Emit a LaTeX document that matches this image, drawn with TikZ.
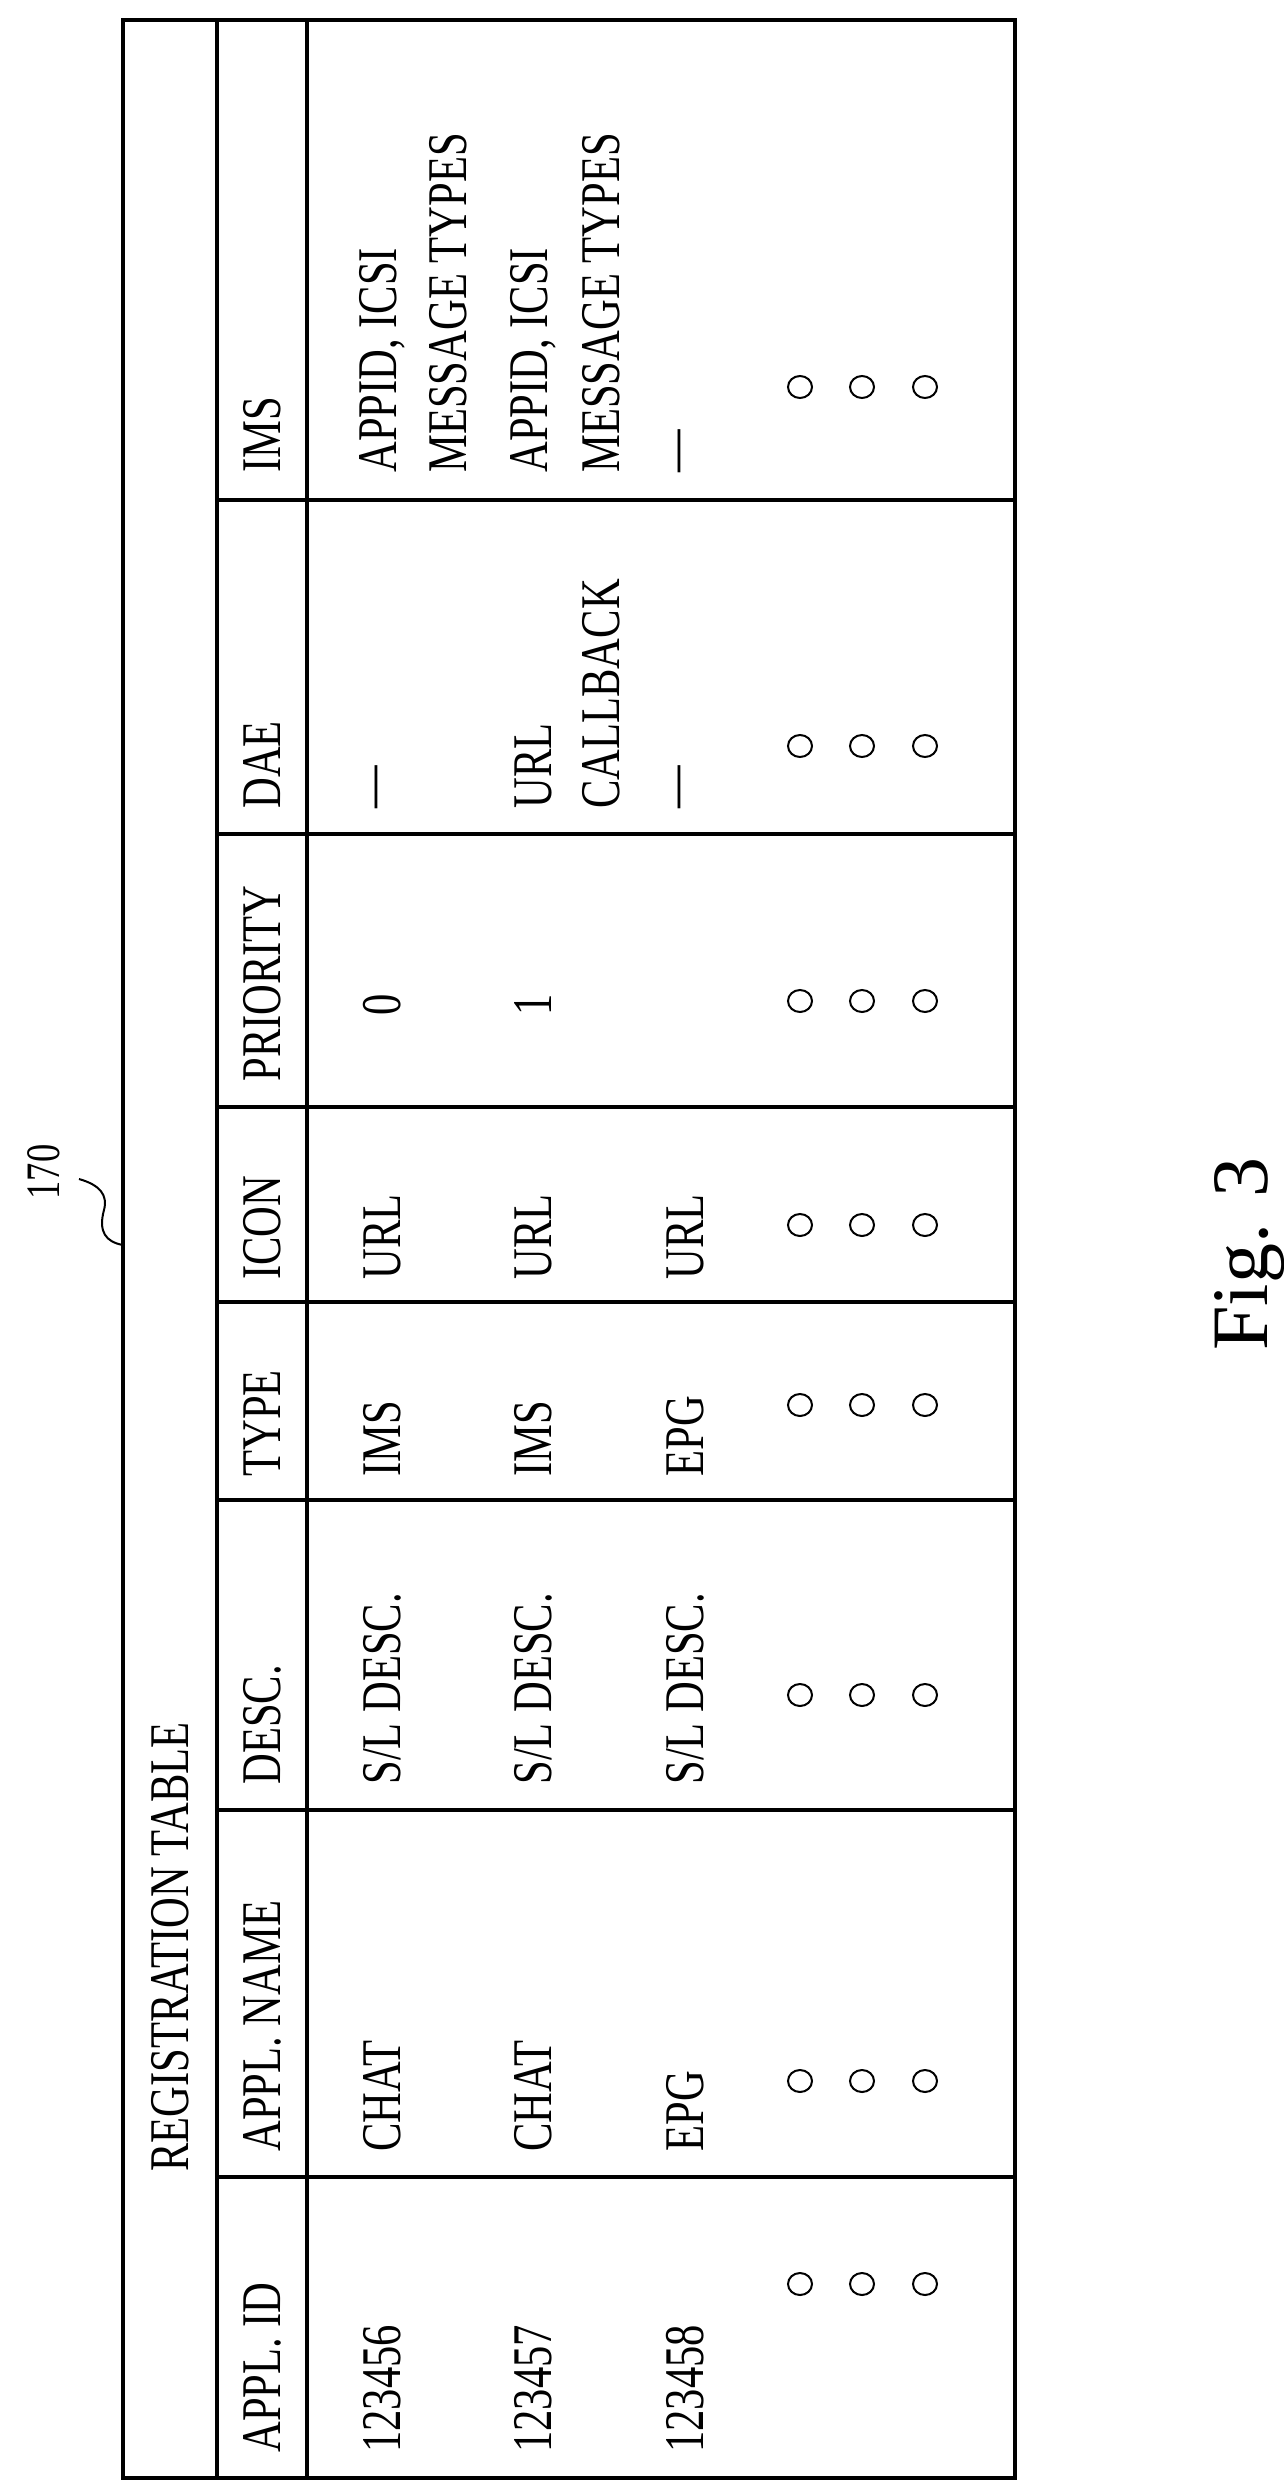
\documentclass[tikz,border=0pt]{standalone}
\usepackage{fontspec}
\usetikzlibrary{shapes.geometric}
\setmainfont{Liberation Serif}
\newfontfamily\condfont[FakeStretch=0.76,Ligatures=TeX]{Liberation Serif}
\begin{document}
\begin{tikzpicture}[x=0.5pt,y=-0.5pt,
  tl/.style={rotate=90,anchor=west,inner sep=0pt,font=\condfont\fontsize{28}{30}\selectfont},
  tc/.style={rotate=90,anchor=center,inner sep=0pt,font=\condfont\fontsize{28}{30}\selectfont},
  grid/.style={line width=1.6pt},
  dot/.style={draw,ellipse,minimum width=12pt,minimum height=11pt,inner sep=0pt,line width=1pt}]
\useasboundingbox (0,0) rectangle (1284,2488);
% frame
\draw[grid] (123,20) rectangle (1015,2478);
\draw[grid] (217,20) -- (217,2478);
\draw[grid] (307,20) -- (307,2478);
\foreach \y in {500,834,1107,1302,1500,1810,2177}
  \draw[grid] (217,\y) -- (1015,\y);
% title
\node[tl] (title) at (170,2172) {REGISTRATION TABLE};
% headers
\node[tl] (h1) at (262,2453) {APPL. ID};
\node[tl] (h2) at (262,2152) {APPL. NAME};
\node[tl] (h3) at (262,1785) {DESC.};
\node[tl] (h4) at (262,1477) {TYPE};
\node[tl] (h5) at (262,1280) {ICON};
\node[tl] (h6) at (262,1082) {PRIORITY};
\node[tl] (h7) at (262,809) {DAE};
\node[tl] (h8) at (262,473) {IMS};
% row 1
\node[tl] (a1) at (382,2453) {123456};
\node[tl] (b1) at (382,2152) {CHAT};
\node[tl] (c1) at (382,1785) {S/L DESC.};
\node[tl] (d1) at (382,1477) {IMS};
\node[tl] (e1) at (382,1280) {URL};
\node[tc] (f1) at (382,1005) {0};
\node[tl] (g1) at (382,809) {---};
\node[tl] (i1) at (382,473) {APPID, ICSI};
\node[tl] (j1) at (448,473) {MESSAGE TYPES};
% row 2
\node[tl] (a2) at (533,2453) {123457};
\node[tl] (b2) at (533,2152) {CHAT};
\node[tl] (c2) at (533,1785) {S/L DESC.};
\node[tl] (d2) at (533,1477) {IMS};
\node[tl] (e2) at (533,1280) {URL};
\node[tc] (f2) at (533,1005) {1};
\node[tl] (g2) at (533,809) {URL};
\node[tl] (k2) at (601,809) {CALLBACK};
\node[tl] (i2) at (533,473) {APPID, ICSI};
\node[tl] (j2) at (601,473) {MESSAGE TYPES};
% row 3
\node[tl] (a3) at (685,2453) {123458};
\node[tl] (b3) at (685,2152) {EPG};
\node[tl] (c3) at (685,1785) {S/L DESC.};
\node[tl] (d3) at (685,1477) {EPG};
\node[tl] (e3) at (685,1280) {URL};
\node[tl] (g3) at (685,809) {---};
\node[tl] (i3) at (685,473) {---};
% dots
\foreach \y [count=\c] in {2284,2081,1695,1405,1225,1001,746,387}
  \foreach \x [count=\r] in {800,862,925}
    \node[dot] (dot\c-\r) at (\x,\y) {};
% label 170
\node[rotate=90,font=\condfont\fontsize{24}{26}\selectfont,inner sep=0pt] (lbl) at (44,1172) {170};
\coordinate (tip) at (123,1245);
\draw[line width=1pt] (79,1179) .. controls (100,1185) and (108,1195) .. (104,1210)
  .. controls (98,1232) and (106,1242) .. (tip);
% figure caption
\node[rotate=90,font=\fontsize{40}{44}\selectfont,inner sep=0pt] (fig) at (1250,1254) {Fig. 3};
\end{tikzpicture}
\end{document}
